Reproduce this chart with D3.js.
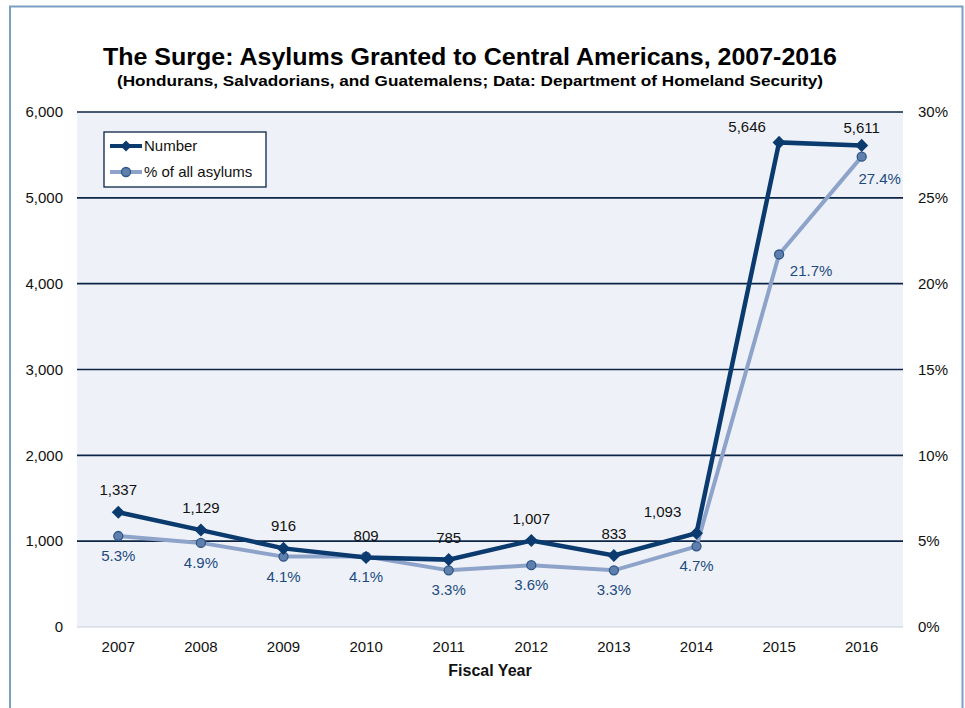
<!DOCTYPE html>
<html>
<head>
<meta charset="utf-8">
<script src="https://cdn.jsdelivr.net/npm/d3@7"></script>
<style>
  body { margin: 0; background: #fff; }
  svg { display: block; font-family: "Liberation Sans", Arial, sans-serif; }
</style>
</head>
<body>
<svg id="chart" width="965" height="708"></svg>
<script>
const years = ['2007', '2008', '2009', '2010', '2011', '2012', '2013', '2014', '2015', '2016'];
const numbers = [1337, 1129, 916, 809, 785, 1007, 833, 1093, 5646, 5611];
const percents = [5.3, 4.9, 4.1, 4.1, 3.3, 3.6, 3.3, 4.7, 21.7, 27.4];
const leftTicks = [0, 1000, 2000, 3000, 4000, 5000, 6000];
const rightTicks = [0, 5, 10, 15, 20, 25, 30];

const svg = d3.select('#chart');
const m = { left: 77, right: 903, top: 112, bottom: 627 };

// outer frame
svg.append('rect')
  .attr('x', 10).attr('y', 6.5).attr('width', 952.5).attr('height', 720)
  .attr('fill', 'none').attr('stroke', '#7aa0c4').attr('stroke-width', 2);

svg.append('rect')
  .attr('x', m.left).attr('y', m.top)
  .attr('width', m.right - m.left).attr('height', m.bottom - m.top)
  .attr('fill', '#eef2f8');

const x = d3.scaleBand().domain(years).range([m.left, m.right]);
const cx = d => x(d) + x.bandwidth() / 2;
const yL = d3.scaleLinear().domain([0, 6000]).range([m.bottom, m.top]);
const yR = d3.scaleLinear().domain([0, 30]).range([m.bottom, m.top]);

// gridlines
svg.selectAll('.grid')
  .data(leftTicks.filter(d => d > 0))
  .join('line')
  .attr('x1', m.left).attr('x2', m.right)
  .attr('y1', d => yL(d)).attr('y2', d => yL(d))
  .attr('stroke', '#0c2446').attr('stroke-width', 1.6);

svg.append('line')
  .attr('x1', m.left).attr('x2', m.right)
  .attr('y1', m.bottom).attr('y2', m.bottom)
  .attr('stroke', '#d6dde8').attr('stroke-width', 1.5);

// axes
const axL = svg.append('g').attr('transform', `translate(${m.left},0)`)
  .call(d3.axisLeft(yL).tickValues(leftTicks).tickFormat(d3.format(',')).tickSize(0).tickPadding(14));
const axR = svg.append('g').attr('transform', `translate(${m.right},0)`)
  .call(d3.axisRight(yR).tickValues(rightTicks).tickFormat(d => d + '%').tickSize(0).tickPadding(15));
const axB = svg.append('g').attr('transform', `translate(0,${m.bottom})`)
  .call(d3.axisBottom(x).tickSize(0).tickPadding(14));
[axL, axR, axB].forEach(a => {
  a.select('.domain').remove();
  a.selectAll('text').attr('font-size', 15).attr('fill', '#111')
    .attr('font-family', '"Liberation Sans", Arial, sans-serif');
});

// percent line
const lineR = d3.line().x((d, i) => cx(years[i])).y(d => yR(d));
svg.append('path').datum(percents)
  .attr('d', lineR).attr('fill', 'none')
  .attr('stroke', '#8ea3c9').attr('stroke-width', 4);

// number line
const lineL = d3.line().x((d, i) => cx(years[i])).y(d => yL(d));
svg.append('path').datum(numbers)
  .attr('d', lineL).attr('fill', 'none')
  .attr('stroke', '#0b3a6e').attr('stroke-width', 4.5);

svg.selectAll('.pt')
  .data(percents)
  .join('circle')
  .attr('cx', (d, i) => cx(years[i])).attr('cy', d => yR(d))
  .attr('r', 4.5)
  .attr('fill', '#5f80ad').attr('stroke', '#2f5687').attr('stroke-width', 1.3);

// diamonds: rotated squares
svg.selectAll('.dm')
  .data(numbers)
  .join('path')
  .attr('d', d3.symbol().type(d3.symbolSquare).size(85))
  .attr('transform', (d, i) => `translate(${cx(years[i])},${yL(d)}) rotate(45)`)
  .attr('fill', '#0b3a6e');

// value labels
const numOff = [[0, -17], [0, -17], [0, -17], [0, -17], [0, -17], [0, -17], [0, -17], [-34, -16], [-32, -10], [0, -12]];
svg.selectAll('.nl')
  .data(numbers)
  .join('text')
  .attr('x', (d, i) => cx(years[i]) + numOff[i][0])
  .attr('y', (d, i) => yL(d) + numOff[i][1])
  .attr('text-anchor', 'middle')
  .attr('font-size', 15).attr('fill', '#111')
  .text(d => d3.format(',')(d));

const pctOff = [[0, 25], [0, 25], [0, 25], [0, 25], [0, 25], [0, 25], [0, 25], [0, 25], [32, 22], [18, 27]];
svg.selectAll('.pl')
  .data(percents)
  .join('text')
  .attr('x', (d, i) => cx(years[i]) + pctOff[i][0])
  .attr('y', (d, i) => yR(d) + pctOff[i][1])
  .attr('text-anchor', 'middle')
  .attr('font-size', 15).attr('fill', '#1d4a80')
  .text(d => d.toFixed(1) + '%');

// titles
svg.append('text').attr('x', 470).attr('y', 65).attr('text-anchor', 'middle')
  .attr('font-size', 24).attr('font-weight', 'bold').attr('fill', '#000')
  .attr('textLength', 734).attr('lengthAdjust', 'spacingAndGlyphs')
  .text('The Surge: Asylums Granted to Central Americans, 2007-2016');
svg.append('text').attr('x', 470).attr('y', 86).attr('text-anchor', 'middle')
  .attr('font-size', 15).attr('font-weight', 'bold').attr('fill', '#000')
  .attr('textLength', 706).attr('lengthAdjust', 'spacingAndGlyphs')
  .text('(Hondurans, Salvadorians, and Guatemalens; Data: Department of Homeland Security)');
svg.append('text').attr('x', 490).attr('y', 676).attr('text-anchor', 'middle')
  .attr('font-size', 16).attr('font-weight', 'bold').attr('fill', '#111')
  .text('Fiscal Year');

// legend
const lg = svg.append('g').attr('transform', 'translate(104,132)');
lg.append('rect').attr('width', 162).attr('height', 55)
  .attr('fill', '#fff').attr('stroke', '#0c2446').attr('stroke-width', 1.3);
lg.append('line').attr('x1', 6).attr('x2', 38).attr('y1', 14).attr('y2', 14)
  .attr('stroke', '#0b3a6e').attr('stroke-width', 4);
lg.append('path').attr('d', d3.symbol().type(d3.symbolSquare).size(60))
  .attr('transform', 'translate(22,14) rotate(45)').attr('fill', '#0b3a6e');
lg.append('text').attr('x', 40).attr('y', 19).attr('font-size', 15).attr('fill', '#111').text('Number');
lg.append('line').attr('x1', 6).attr('x2', 38).attr('y1', 40).attr('y2', 40)
  .attr('stroke', '#8ea3c9').attr('stroke-width', 4);
lg.append('circle').attr('cx', 22).attr('cy', 40).attr('r', 4.5)
  .attr('fill', '#5f80ad').attr('stroke', '#2f5687').attr('stroke-width', 1.3);
lg.append('text').attr('x', 40).attr('y', 45).attr('font-size', 15).attr('fill', '#111').text('% of all asylums');
</script>
</body>
</html>
